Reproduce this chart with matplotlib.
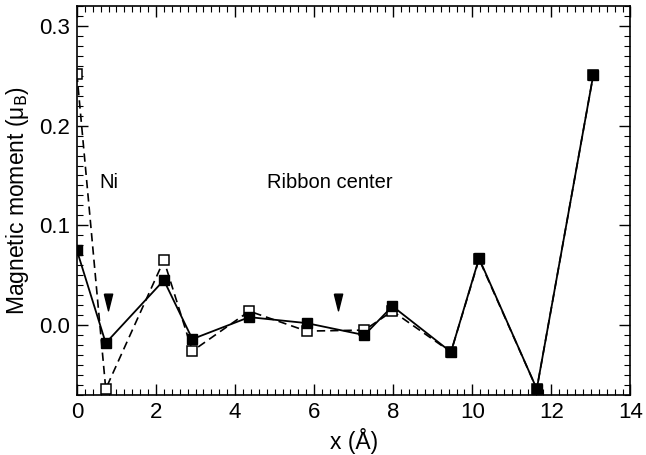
import matplotlib
matplotlib.use("Agg")
import matplotlib.pyplot as plt
from matplotlib.ticker import MultipleLocator

plt.rcParams['font.family'] = ['Liberation Sans', 'DejaVu Sans']

x = [0.0, 0.73, 2.2, 2.92, 4.36, 5.81, 7.27, 7.98, 9.46, 10.17, 11.63, 13.06]
filled = [0.075, -0.018, 0.045, -0.014, 0.008, 0.002, -0.010, 0.019, -0.027, 0.067, -0.064, 0.251]
opened = [0.252, -0.064, 0.065, -0.026, 0.014, -0.006, -0.005, 0.014, -0.027, 0.066, -0.064, 0.251]
arrow_x = [0.78, 6.61]
arrow_y = [0.023, 0.023]
labels = [("Ni", 0.56, 0.143), ("Ribbon center", 4.8, 0.143)]

fig = plt.figure(figsize=(6.46, 4.55), dpi=100)
ax = fig.add_axes([0.119, 0.132, 0.857, 0.855])

ax.plot(x, opened, linestyle=(0, (5, 3)), color='black', lw=1.2, marker='s',
        markersize=6.5, markerfacecolor='white', markeredgecolor='black', markeredgewidth=1.1, zorder=2)
ax.plot(x, filled, linestyle='-', color='black', lw=1.3, marker='s',
        markersize=6.5, markerfacecolor='black', markeredgecolor='black', zorder=3)

tri = [(-0.5, 1.0), (0.5, 1.0), (0.0, -1.0), (-0.5, 1.0)]
ax.plot(arrow_x, arrow_y, linestyle='none', marker=tri, markersize=12, color='black')

for t, tx, ty in labels:
    ax.text(tx, ty, t, fontsize=14.5, va='center', ha='left')

ax.set_xlim(0, 14)
ax.set_ylim(-0.07, 0.32)
ax.xaxis.set_major_locator(MultipleLocator(2))
ax.xaxis.set_minor_locator(MultipleLocator(0.2))
ax.yaxis.set_major_locator(MultipleLocator(0.1))
ax.yaxis.set_minor_locator(MultipleLocator(0.01))
ax.yaxis.set_major_formatter(plt.FuncFormatter(lambda v, p: f"{v:.1f}"))
ax.tick_params(which='both', direction='in', top=True, right=True, labelsize=16)
ax.tick_params(which='major', length=8, width=1, pad=5)
ax.tick_params(which='minor', length=4, width=0.8)
for s in ax.spines.values():
    s.set_linewidth(1.2)

ax.set_xlabel("x (Å)", fontsize=16.5, labelpad=4)
ax.set_ylabel("Magnetic moment (μ$_{\\rm B}$)", fontsize=16.5, labelpad=6)

fig.savefig("out.png", dpi=100)
